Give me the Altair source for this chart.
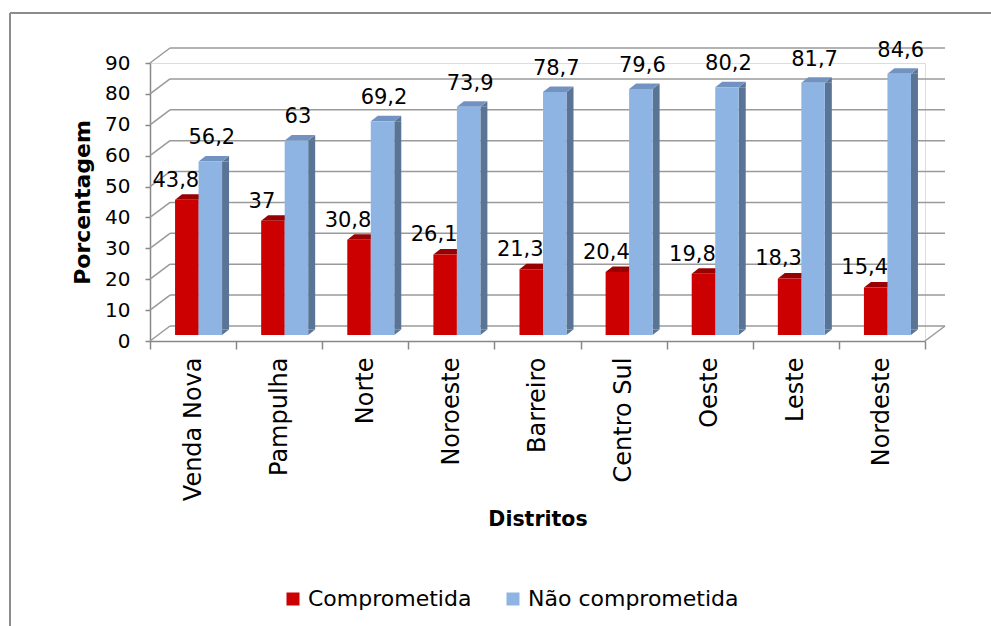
import altair as alt
import pandas as pd

categories = ["Venda Nova", "Pampulha", "Norte", "Noroeste", "Barreiro",
              "Centro Sul", "Oeste", "Leste", "Nordeste"]
comprometida = [43.8, 37, 30.8, 26.1, 21.3, 20.4, 19.8, 18.3, 15.4]
nao_comprometida = [56.2, 63, 69.2, 73.9, 78.7, 79.6, 80.2, 81.7, 84.6]
series_names = ["Comprometida", "Não comprometida"]
y_ticks = [0, 10, 20, 30, 40, 50, 60, 70, 80, 90]

FONT = "DejaVu Sans"
RED, RED_TOP = "#CC0000", "#990000"
BLUE, BLUE_TOP, BLUE_SIDE = "#8DB4E2", "#7293C2", "#5A7496"
GRID = "#9A9A9A"

W, H = 775, 278
BAR_W, DX, DY = 23.5, 7, 5.5
BASE_DY = -6          # bar plane shift (up) relative to front axis
SHIFT_X = 5.5         # bar plane shift (right)
WALL_DX, WALL_DY = 20, -15


def fmt(v):
    return f"{v:g}".replace(".", ",")


rows = []
for c, a, b in zip(categories, comprometida, nao_comprometida):
    rows.append(dict(cat=c, series=series_names[0], value=a, label=fmt(a), zero=0))
    rows.append(dict(cat=c, series=series_names[1], value=b, label=fmt(b), zero=0))
df = pd.DataFrame(rows)
grid_df = pd.DataFrame({"tick": y_ticks})
floor_df = pd.DataFrame({"tick": [0]})

yscale = alt.Scale(domain=[0, 90], nice=False, zero=True)
xscale = alt.Scale(domain=categories, paddingInner=0, paddingOuter=0)

x_axis = alt.Axis(title="Distritos", labelAngle=-90, labelFontSize=24, labelFont=FONT,
                  labelColor="black", labelPadding=8, tickBand="extent", tickSize=8,
                  tickColor="#888888", tickWidth=1.5, domainColor="#888888", domainWidth=1.5,
                  titleFont=FONT, titleFontSize=20.5, titleFontWeight="bold",
                  titleColor="black", titlePadding=9, grid=False, labelOverlap=False)
y_axis = alt.Axis(title="Porcentagem", values=y_ticks, labelFontSize=20, labelFont=FONT,
                  labelColor="black", labelPadding=15, tickSize=5, tickColor="#888888",
                  tickWidth=1.5, domainColor="#888888", domainWidth=1.5,
                  titleFont=FONT, titleFontSize=22, titleFontWeight="bold",
                  titleColor="black", titlePadding=10, grid=False)


def Y(field):
    return alt.Y(field, scale=yscale, axis=y_axis)


# ----- frame border of the picture
border_top = alt.Chart(floor_df).mark_rule(color="#8C8C8C", strokeWidth=2).encode(
    x=alt.value(-140), x2=alt.value(W + 70), y=alt.value(-50))
border_left = alt.Chart(floor_df).mark_rule(color="#8C8C8C", strokeWidth=2).encode(
    x=alt.value(-140), y=alt.value(-50), y2=alt.value(H + 290))

# ----- back wall gridlines
back_grid = alt.Chart(grid_df).mark_rule(color=GRID, strokeWidth=1.5, yOffset=WALL_DY).encode(
    x=alt.value(WALL_DX), x2=alt.value(W + WALL_DX), y=Y("tick:Q"))
side_grid = alt.Chart(grid_df).mark_rule(color=GRID, strokeWidth=1.5, y2Offset=WALL_DY).encode(
    x=alt.value(0), x2=alt.value(WALL_DX), y=Y("tick:Q"), y2="tick:Q")
floor_right = alt.Chart(floor_df).mark_rule(color=GRID, strokeWidth=1.5, y2Offset=WALL_DY).encode(
    x=alt.value(W), x2=alt.value(W + WALL_DX), y=Y("tick:Q"), y2="tick:Q")

legend = alt.Legend(title=None, orient="none", direction="horizontal",
                    legendX=132, legendY=525, symbolType="square",
                    symbolSize=169, symbolStrokeWidth=0,
                    labelFont=FONT, labelFontSize=22, labelColor="black",
                    labelOffset=4, columnPadding=30, labelLimit=400)
color_enc = alt.Color("series:N", scale=alt.Scale(domain=series_names, range=[RED, BLUE]),
                      legend=legend)

hw = BAR_W / 2
top_face = f"M {-hw} 0 L {hw} 0 L {hw + DX} {-DY} L {-hw + DX} {-DY} Z"
side_top = f"M {hw} 0 L {hw + DX} {-DY} L {hw + DX} 0 Z"
side_bottom = f"M {hw} {-DY} L {hw} 0 L {hw + DX} {-DY} Z"

xenc = alt.X("cat:N", sort=categories, scale=xscale, axis=x_axis)


def bar_layers(sname, cx, front, top, side, label_dx, label_dy):
    base = alt.Chart(df).transform_filter(alt.datum.series == sname)
    side_rect = base.mark_bar(width=DX, color=side, xOffset=cx + hw + DX / 2,
                              yOffset=BASE_DY, y2Offset=BASE_DY - DY).encode(
        x=xenc, y=Y("value:Q"), y2="zero:Q")
    s_top = base.mark_point(shape=side_top, size=4, filled=True, opacity=1, strokeWidth=0,
                            color=side, xOffset=cx, yOffset=BASE_DY).encode(
        x=xenc, y=Y("value:Q"))
    s_bot = base.mark_point(shape=side_bottom, size=4, filled=True, opacity=1, strokeWidth=0,
                            color=side, xOffset=cx, yOffset=BASE_DY).encode(
        x=xenc, y=Y("zero:Q"))
    t_face = base.mark_point(shape=top_face, size=4, filled=True, opacity=1, strokeWidth=0,
                             color=top, xOffset=cx, yOffset=BASE_DY).encode(
        x=xenc, y=Y("value:Q"))
    front_bar = base.mark_bar(width=BAR_W, xOffset=cx, yOffset=BASE_DY,
                              y2Offset=BASE_DY).encode(
        x=xenc, y=Y("value:Q"), y2="zero:Q", color=color_enc)
    labels = base.mark_text(font=FONT, fontSize=21, color="black", baseline="bottom",
                            xOffset=cx + label_dx, yOffset=BASE_DY + label_dy).encode(
        x=xenc, y=Y("value:Q"), text="label:N")
    return [side_rect, s_top, s_bot, t_face, front_bar], labels


red_layers, red_labels = bar_layers(series_names[0], SHIFT_X - hw, RED, RED_TOP, RED_TOP,
                                    -11, -9)
blue_layers, blue_labels = bar_layers(series_names[1], SHIFT_X + hw, BLUE, BLUE_TOP, BLUE_SIDE,
                                      1.5, -13)

chart = alt.layer(
    border_top, border_left, back_grid, side_grid, floor_right,
    *red_layers, *blue_layers, red_labels, blue_labels
).properties(
    width=W, height=H,
    padding={"left": 150, "top": 63, "right": 66, "bottom": 285},
    autosize=alt.AutoSizeParams(type="none"),
    background="white",
).configure_view(stroke=None).configure(font=FONT)

chart.save("out.html", embed_options={"renderer": "svg", "actions": False})
